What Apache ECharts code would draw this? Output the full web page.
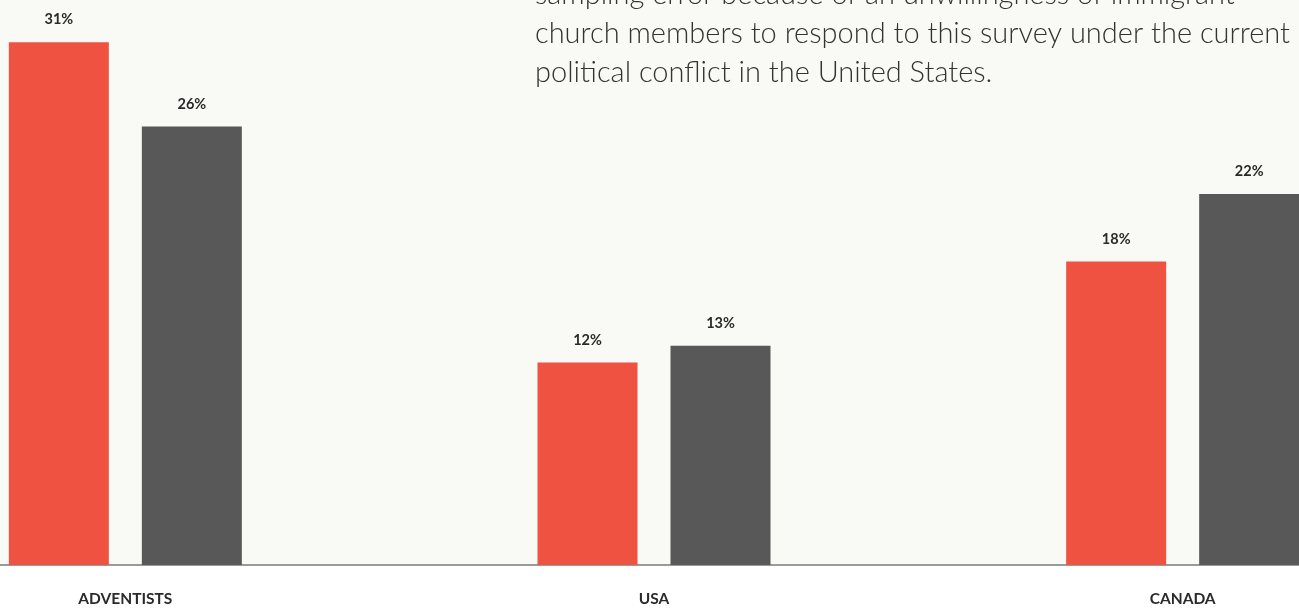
<!DOCTYPE html>
<html>
<head>
<meta charset="utf-8">
<title>Chart</title>
<script src="https://cdn.jsdelivr.net/npm/echarts@6/dist/echarts.min.js"></script>
<style>
  html, body { margin: 0; padding: 0; background: #ffffff; }
  #chart { width: 1299px; height: 608px; }
</style>
</head>
<body>
<div id="chart"></div>
<script>
// Categories and the two compared measures (percent)
const categories = ['ADVENTISTS', 'USA', 'CANADA'];
const seriesFirst = [31, 12, 18];
const seriesSecond = [26, 13, 22];

// Note text shown at top right
const noteLines = [
  'sampling error because of an unwillingness of immigrant',
  'church members to respond to this survey under the current',
  'political conflict in the United States.'
];

const chart = echarts.init(document.getElementById('chart'), null, { renderer: 'canvas' });

const labelStyle = {
  show: true,
  position: 'top',
  distance: 15,
  formatter: '{c}%',
  fontFamily: 'Lato',
  fontWeight: 'bold',
  fontSize: 14.5,
  color: '#2a2a2a'
};

chart.setOption({
  backgroundColor: '#ffffff',
  animation: false,
  grid: {
    left: -139,
    width: 1586,
    top: 0,
    bottom: 43,
    containLabel: false,
    outerBoundsMode: 'none',
    show: true,
    backgroundColor: '#f9f9f5',
    borderWidth: 0
  },
  xAxis: {
    type: 'category',
    data: categories,
    axisLine: { show: true, lineStyle: { color: '#9a9a9a', width: 2 } },
    axisTick: { show: false },
    axisLabel: {
      margin: 26,
      fontFamily: 'Lato',
      fontWeight: 'bold',
      fontSize: 15.5,
      color: '#2a2a2a'
    }
  },
  yAxis: {
    type: 'value',
    min: 0,
    max: 33.5,
    show: false,
    splitLine: { show: false }
  },
  graphic: [{
    type: 'text',
    left: 535,
    top: -25,
    z: 10,
    style: {
      text: noteLines.join('\n'),
      fontFamily: 'Lato',
      fontWeight: 300,
      fontSize: 29,
      lineHeight: 39,
      fill: '#333333'
    }
  }],
  series: [
    {
      name: 'First measure',
      type: 'bar',
      data: seriesFirst,
      barWidth: 100,
      barGap: '33%',
      itemStyle: { color: '#f05242' },
      label: labelStyle
    },
    {
      name: 'Second measure',
      type: 'bar',
      data: seriesSecond,
      barWidth: 100,
      itemStyle: { color: '#585858' },
      label: labelStyle
    }
  ]
});
</script>
</body>
</html>
